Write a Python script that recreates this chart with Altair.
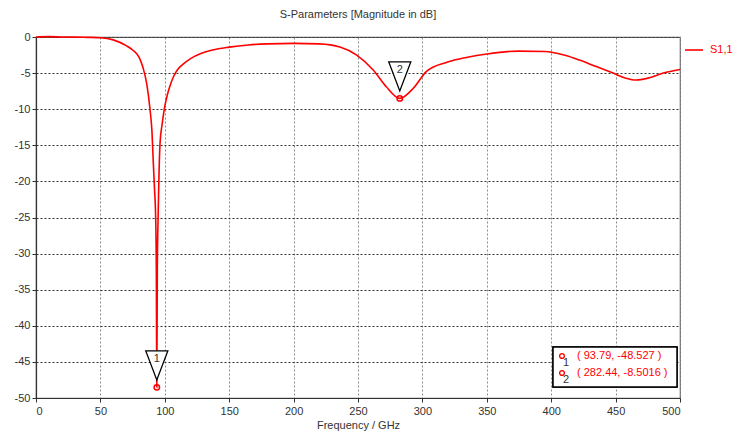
import altair as alt
import pandas as pd

# Curve S1,1 (frequency in GHz, magnitude in dB)
freq = [0, 10, 20, 30, 40, 50, 60, 70, 75, 80, 83, 86, 88.5, 90, 91.1, 92, 92.9, 93.4,
        93.79, 94.2, 94.8, 95.5, 96.3, 98, 99.6, 102, 104, 107, 110, 114, 120, 128, 137,
        150, 165, 180, 200, 220, 236, 249, 262, 272, 282.44, 293, 303, 319, 335, 350,
        375, 395, 410, 422, 435, 448, 458, 466, 475, 487, 500]
s11 = [0.0, 0.05, 0.0, -0.02, -0.05, -0.1, -0.4, -1.2, -1.8, -2.8, -4.2, -6.5, -10.0,
       -13.0, -17.5, -21.0, -25.0, -32.0, -48.527, -32.0, -25.0, -19.0, -14.7, -12.0,
       -10.0, -8.0, -6.8, -5.4, -4.5, -3.8, -3.0, -2.3, -1.8, -1.4, -1.1, -0.95, -0.88,
       -0.95, -1.4, -2.5, -4.6, -6.9, -8.5016, -7.1, -4.8, -3.5, -2.8, -2.35, -1.95,
       -2.0, -2.5, -3.2, -4.1, -5.0, -5.7, -5.96, -5.7, -5.0, -4.5]

marker_id = ["1", "2"]
marker_f = [93.79, 282.44]
marker_db = [-48.527, -8.5016]
marker_txt = ["( 93.79, -48.527 )", "( 282.44, -8.5016 )"]

x_ticks = list(range(0, 501, 50))
y_ticks = list(range(-50, 1, 5))

FONT = "Liberation Sans"
W, H = 644, 361

curve = pd.DataFrame({"f": freq, "db": s11, "series": ["S1,1"] * len(freq)})
mk = pd.DataFrame({"id": marker_id, "f": marker_f, "db": marker_db, "txt": marker_txt,
                   "row": [0, 1]})

xs = alt.Scale(domain=[0, 500], nice=False, zero=False)
ys = alt.Scale(domain=[-50, 0], nice=False, zero=False)

label_expr = "(datum.value < 0 ? '-' : '') + abs(datum.value)"
xax = alt.Axis(values=x_ticks, title="Frequency / GHz", gridColor="#8a8a8a",
               gridDash=[2, 2], labelPadding=3, titlePadding=3, labelOverlap=False)
yax = alt.Axis(values=y_ticks, title=None, gridColor="#333333", gridDash=[2, 2],
               labelPadding=2, labelOverlap=False, labelExpr=label_expr)

X = alt.X("f:Q", scale=xs, axis=xax)
Y = alt.Y("db:Q", scale=ys, axis=yax)

line = alt.Chart(curve).mark_line(color="#ff0000", strokeWidth=1.6,
                                  interpolate="monotone").encode(
    x=X, y=Y,
    color=alt.Color("series:N", scale=alt.Scale(range=["#ff0000"]),
                    legend=alt.Legend(orient="none", legendX=648, legendY=3,
                                      title=None, symbolType="stroke",
                                      symbolSize=324, symbolStrokeWidth=1.6,
                                      labelColor="#ff0000", labelFont=FONT,
                                      labelFontSize=11, labelOffset=6,
                                      padding=0)),
)

tri_path = "M-0.76,-1L0.76,-1L0,1Z"
tri = alt.Chart(mk).mark_point(shape=tri_path, size=841, filled=True, fill="white",
                               stroke="black", strokeWidth=1.3, opacity=1,
                               yOffset=-22).encode(x=X, y=Y)

tri_lbl = alt.Chart(mk).mark_text(font=FONT, fontSize=11, color="#333333",
                                  dy=-28).encode(x=X, y=Y, text="id:N")

ring = alt.Chart(mk).mark_point(shape="circle", size=30, filled=False,
                                color="#ff0000", strokeWidth=1.5, opacity=1).encode(
    x=X, y=Y)

box = alt.Chart(mk).mark_rect(fill="white", stroke="black", strokeWidth=1.5).encode(
    x=alt.value(517), x2=alt.value(641), y=alt.value(310), y2=alt.value(350))

base_box = alt.Chart(mk).transform_calculate(
    py="319 + datum.row * 17",
    px_icon="526",
    px_num="530",
    py_num="326 + datum.row * 17",
    px_txt="541",
)

box_ring = base_box.mark_point(shape="circle", size=22, filled=False,
                               color="#ff0000", strokeWidth=1.4, opacity=1).encode(
    x=alt.X("px_icon:Q", scale=None), y=alt.Y("py:Q", scale=None))
box_num = base_box.mark_text(font=FONT, fontSize=11, color="#333333").encode(
    x=alt.X("px_num:Q", scale=None), y=alt.Y("py_num:Q", scale=None), text="id:N")
box_txt = base_box.mark_text(font=FONT, fontSize=11, color="#ff0000",
                             align="left").encode(
    x=alt.X("px_txt:Q", scale=None), y=alt.Y("py:Q", scale=None), text="txt:N")

chart = alt.layer(line, tri, tri_lbl, ring, box, box_ring, box_num, box_txt).properties(
    width=W, height=H,
    title=alt.TitleParams("S-Parameters [Magnitude in dB]", font=FONT, fontSize=11,
                          fontWeight="normal", color="#333333", anchor="middle",
                          offset=11),
    autosize=alt.AutoSizeParams(type="none"),
    padding={"left": 28, "top": 29, "right": 57, "bottom": 33},
).configure_view(stroke="#666666", strokeWidth=1.2).configure_axis(
    domainColor="#333333", tickColor="#333333", tickSize=4, labelFont=FONT,
    labelFontSize=11, labelColor="#333333", titleFont=FONT, titleFontSize=11,
    titleFontWeight="normal", titleColor="#333333", gridOpacity=1, gridWidth=1,
    domainWidth=1.2,
)

chart.save("out.html", embed_options={"renderer": "svg", "actions": False})
